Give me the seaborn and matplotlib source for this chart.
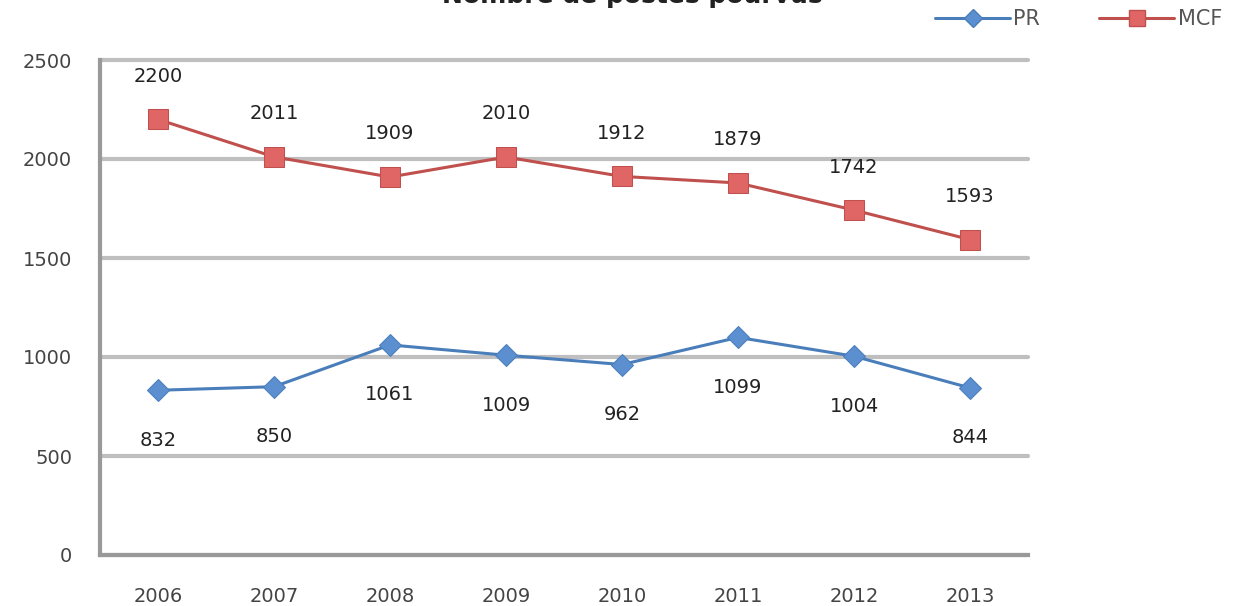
import matplotlib
matplotlib.use("Agg")
import matplotlib.pyplot as plt
import seaborn as sns
import pandas as pd
from matplotlib.lines import Line2D

years = ["2006", "2007", "2008", "2009", "2010", "2011", "2012", "2013"]
pr = [832, 850, 1061, 1009, 962, 1099, 1004, 844]
mcf = [2200, 2011, 1909, 2010, 1912, 1879, 1742, 1593]
title = "Nombre de postes pourvus"

sns.set_theme(style="white")
plt.rcParams['font.family'] = ['DejaVu Sans']

fig = plt.figure(figsize=(12.36, 6.06), dpi=100)
ax = fig.add_axes([100/1236, 1-555/606, (1028-100)/1236, (555-60)/606])

x = list(range(len(years)))
df = pd.DataFrame({"x": x * 2, "v": pr + mcf, "s": ["PR"] * len(x) + ["MCF"] * len(x)})

blue = "#4A7EBB"
red = "#C0504D"
sns.lineplot(data=df[df.s == "PR"], x="x", y="v", ax=ax, color=blue, lw=2.2,
             marker="D", markersize=11, markeredgecolor=blue, markerfacecolor="#5B8FD0", legend=False)
sns.lineplot(data=df[df.s == "MCF"], x="x", y="v", ax=ax, color=red, lw=2.2,
             marker="s", markersize=14, markeredgecolor=red, markerfacecolor="#E06666", legend=False)

for xi, v in zip(x, mcf):
    ax.annotate(str(v), (xi, v), xytext=(0, 31), textcoords="offset points",
                ha="center", va="center", fontsize=14, color="#222222")
for xi, v in zip(x, pr):
    ax.annotate(str(v), (xi, v), xytext=(0, -36), textcoords="offset points",
                ha="center", va="center", fontsize=14, color="#222222")

ax.set_xlim(-0.5, len(years) - 0.5)
ax.set_ylim(0, 2500)
ax.set_yticks([0, 500, 1000, 1500, 2000, 2500])
ax.set_xticks(x)
ax.set_xticklabels(years)
ax.set_xticks([i - 0.5 for i in range(len(years) + 1)], minor=True)
ax.tick_params(axis="x", which="major", length=0, pad=23, labelsize=14, labelcolor="#444444")
ax.tick_params(axis="x", which="minor", length=6, width=2.5, color="#BBBBBB", direction="out")
ax.tick_params(axis="y", length=6, width=2.5, color="#BBBBBB", pad=14, labelsize=14, labelcolor="#444444")
ax.set_xlabel("")
ax.set_ylabel("")
ax.grid(axis="y", color="#BFBFBF", lw=3)
for gl in ax.get_ygridlines():
    gl.set_clip_on(False)
ax.set_axisbelow(True)
for s in ["top", "right"]:
    ax.spines[s].set_visible(False)
for s in ["left", "bottom"]:
    ax.spines[s].set_color("#999999")
    ax.spines[s].set_linewidth(3)

fig.text(632/1236, 1 - 3/606, title, ha="center", va="baseline", fontsize=18, fontweight="bold", color="#222222")

handles = [
    Line2D([], [], color=blue, lw=2.2, marker="D", markersize=9, markerfacecolor="#5B8FD0", markeredgecolor=blue),
    Line2D([], [], color=red, lw=2.2, marker="s", markersize=11, markerfacecolor="#E06666", markeredgecolor=red),
]
fig.legend(handles, ["PR", "MCF"], loc="center left", bbox_to_anchor=(935/1236, 1 - 19/606),
           ncol=2, frameon=False, fontsize=15, handlelength=3.6, handletextpad=0.15,
           columnspacing=2.85, labelcolor="#555555", borderaxespad=0, borderpad=0)

fig.savefig("out.png", dpi=100)
